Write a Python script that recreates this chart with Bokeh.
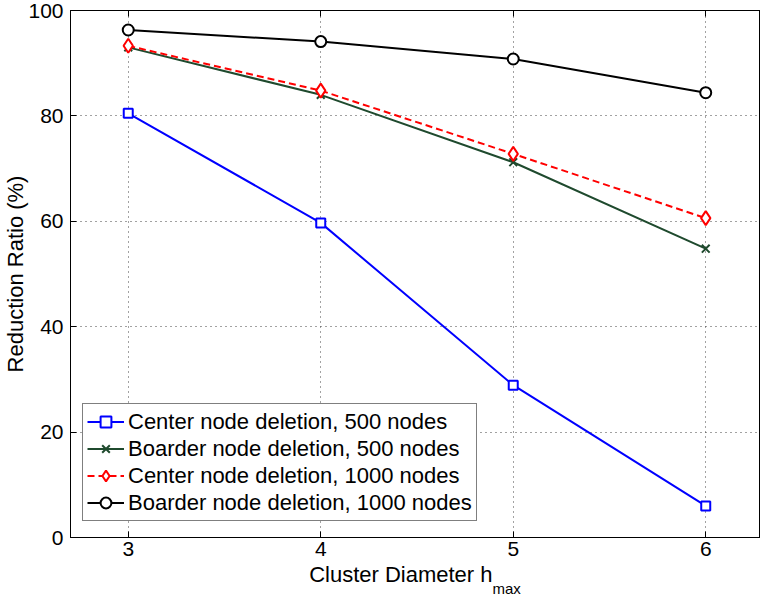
from bokeh.plotting import figure
from bokeh.models import (Range1d, FixedTicker, LinearAxis, Legend, LegendItem, Div)
from bokeh.layouts import column
from bokeh.embed import file_html
from bokeh.resources import INLINE

# ---- data ----
h_max = [3, 4, 5, 6]
center_500 = [80.5, 59.7, 28.9, 6.0]
boarder_500 = [93.0, 84.0, 71.2, 54.8]
center_1000 = [93.3, 84.8, 72.8, 60.6]
boarder_1000 = [96.3, 94.1, 90.8, 84.4]
series_names = ["Center node deletion, 500 nodes",
                "Boarder node deletion, 500 nodes",
                "Center node deletion, 1000 nodes",
                "Boarder node deletion, 1000 nodes"]
x_ticks = [3, 4, 5, 6]
y_ticks = [0, 20, 40, 60, 80, 100]
x_label_main = "Cluster Diameter h"
x_label_sub = "max"
y_label = "Reduction Ratio (%)"

FONT = "Liberation Sans"

p = figure(width=760, height=566, output_backend="svg", toolbar_location=None,
           x_range=Range1d(2.7, 6.2845), y_range=Range1d(0, 100),
           min_border_left=70, min_border_right=0, min_border_top=10,
           min_border_bottom=29, background_fill_color="white",
           border_fill_color="white")

p.outline_line_color = "black"
p.outline_line_width = 1

# axes styling
for ax in [p.xaxis[0], p.yaxis[0]]:
    ax.major_tick_in = 6
    ax.major_tick_out = 0
    ax.minor_tick_line_color = None
    ax.axis_line_color = "black"
    ax.axis_line_width = 1
    ax.major_tick_line_color = "black"
    ax.major_label_text_font = FONT
    ax.major_label_text_font_size = "21px"
    ax.major_label_text_color = "black"

p.xaxis[0].ticker = FixedTicker(ticks=x_ticks)
p.yaxis[0].ticker = FixedTicker(ticks=y_ticks)
p.xaxis[0].major_label_standoff = 4
p.yaxis[0].major_label_standoff = 7
p.yaxis[0].axis_label = y_label
p.yaxis[0].axis_label_text_font = FONT
p.yaxis[0].axis_label_text_font_size = "22px"
p.yaxis[0].axis_label_text_font_style = "normal"
p.yaxis[0].axis_label_text_color = "black"
p.yaxis[0].axis_label_standoff = -3

# mirrored top ticks (labels blanked)
top = LinearAxis(ticker=FixedTicker(ticks=x_ticks), major_tick_in=6, major_tick_out=0,
                 minor_tick_line_color=None, major_label_text_font_size="1px",
                 major_label_overrides={t: "" for t in x_ticks},
                 axis_line_color="black", major_label_standoff=0)
p.add_layout(top, "above")

# grid
for g in [p.xgrid[0], p.ygrid[0]]:
    g.grid_line_color = "#444444"
    g.grid_line_dash = "1 4"
    g.grid_line_width = 1
p.xgrid[0].ticker = FixedTicker(ticks=x_ticks)
p.ygrid[0].ticker = FixedTicker(ticks=y_ticks)

# series
blue = "#0000ff"
green = "#1f4a2e"
red = "#ff0000"
black = "#000000"

l1 = p.line(h_max, center_500, line_color=blue, line_width=2)
m1 = p.scatter(h_max, center_500, marker="square", size=9, line_color=blue,
               line_width=2, fill_color="white")
l2 = p.line(h_max, boarder_500, line_color=green, line_width=2)
m2 = p.scatter(h_max, boarder_500, marker="x", size=11, line_color=green, line_width=2)
l3 = p.line(h_max, center_1000, line_color=red, line_width=2, line_dash="7 4")
m3 = p.scatter(h_max, center_1000, marker="diamond", size=14, line_color=red,
               line_width=2, fill_color="white")
l4 = p.line(h_max, boarder_1000, line_color=black, line_width=2)
m4 = p.scatter(h_max, boarder_1000, marker="circle", size=11, line_color=black,
               line_width=2, fill_color="white")

legend = Legend(items=[LegendItem(label=series_names[0], renderers=[l1, m1]),
                       LegendItem(label=series_names[1], renderers=[l2, m2]),
                       LegendItem(label=series_names[2], renderers=[l3, m3]),
                       LegendItem(label=series_names[3], renderers=[l4, m4])],
                location=(12, 16), orientation="vertical")
legend.label_text_font = FONT
legend.label_text_font_size = "22px"
legend.label_text_color = "black"
legend.glyph_width = 37
legend.glyph_height = 27
legend.label_height = 27
legend.label_standoff = 4
legend.spacing = 0
legend.padding = 4
legend.margin = 0
legend.border_line_color = "black"
legend.border_line_width = 1
legend.background_fill_color = "white"
legend.background_fill_alpha = 1
p.add_layout(legend, "center")

# x-axis label with subscript, centred under the frame
xlabel = Div(
    text=(f'<div style="width:690px;margin-left:70px;text-align:center;'
          f'font-family:\'{FONT}\';font-size:22px;line-height:22px;color:black;">'
          f'{x_label_main}<span style="font-size:15px;vertical-align:-12px;">'
          f'{x_label_sub}</span></div>'),
    width=760, height=33, margin=0,
    styles={"margin-top": "-2px", "overflow": "visible"})

layout = column(p, xlabel, spacing=0)
open("out.html", "w").write(file_html(layout, INLINE))
